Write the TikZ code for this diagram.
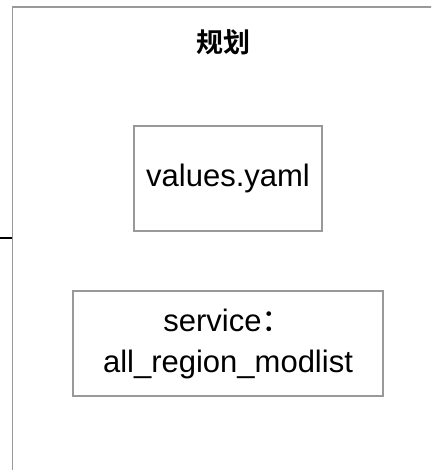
\documentclass[tikz,border=0pt]{standalone}
\usepackage{fontspec}
\setmainfont{Liberation Sans}
\newfontfamily\cjk{Noto Sans CJK SC}
\newfontfamily\cjkbold{Noto Sans CJK SC}[UprightFont=* Bold]
\definecolor{linegray}{RGB}{153,153,153}
\tikzset{
  framebox/.style={draw=linegray, line width=1.8pt, inner sep=0pt, fill=none},
  itembox/.style={draw=linegray, line width=1.5pt, inner sep=0pt, align=center,
    font=\fontsize{31}{41}\selectfont},
  titletext/.style={inner sep=0pt, font=\cjkbold\fontsize{27}{30}\selectfont},
  stubline/.style={draw=black, line width=1.3pt}
}
\begin{document}
\begin{tikzpicture}[x=1pt,y=-1pt]
\useasboundingbox (0,0) rectangle (431,470);
\clip (0,0) rectangle (431,470);
\node[framebox, minimum width=430pt, minimum height=475pt, anchor=north west] (frame) at (11.5,6) {};
\node[titletext] (title) at (223.5,42) {规划};
\node[itembox, minimum width=188pt, minimum height=105pt] (values) at (228,178.5) {values.yaml};
\node[itembox, minimum width=310pt, minimum height=105pt] (service) at (228,343.5) {service{\cjk ：}\\all\_region\_modlist};
\coordinate (stub) at (0,238);
\draw[stubline] (stub) -- (stub -| frame.west);
\end{tikzpicture}
\end{document}
